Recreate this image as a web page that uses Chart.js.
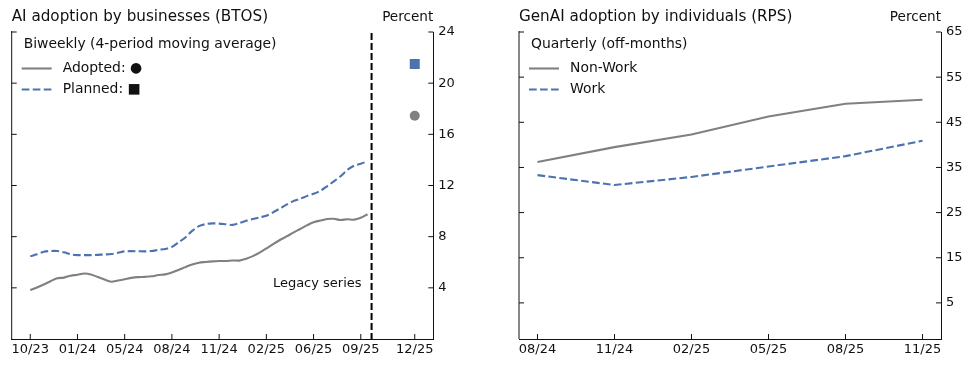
<!DOCTYPE html>
<html>
<head>
<meta charset="utf-8">
<script src="https://cdn.jsdelivr.net/npm/chart.js@4.4.1/dist/chart.umd.min.js"></script>
<style>
    html, body { margin: 0; padding: 0; background: #ffffff; }
    #wrap { position: relative; width: 973px; height: 368px; }
    #leftChart { position: absolute; left: 0; top: 0; }
    #rightChart { position: absolute; left: 490px; top: 0; }
</style>
</head>
<body>
<div id="wrap">
    <canvas id="leftChart" width="486" height="368"></canvas>
    <canvas id="rightChart" width="483" height="368"></canvas>
</div>
<script>
// Datos del gráfico izquierdo (BTOS, quincenal, media móvil de 4 periodos)
const btosTickPos = [0, 7, 14, 21, 28, 35, 42, 49, 57];
const btosTickLabels = ['10/23', '01/24', '05/24', '08/24', '11/24', '02/25', '06/25', '09/25', '12/25'];
const btosYTicks = [4, 8, 12, 16, 20, 24];
const adopted = [
    3.82, 4.02, 4.26, 4.52, 4.75, 4.80, 4.95, 5.02, 5.12, 5.05,
    4.85, 4.65, 4.48, 4.57, 4.67, 4.78, 4.84, 4.86, 4.90, 5.00,
    5.05, 5.20, 5.40, 5.62, 5.82, 5.96, 6.02, 6.07, 6.10, 6.10,
    6.14, 6.13, 6.28, 6.48, 6.75, 7.08, 7.42, 7.74, 8.02, 8.32,
    8.60, 8.88, 9.12, 9.26, 9.38, 9.40, 9.30, 9.36, 9.33, 9.48,
    9.75
];
const planned = [
    6.46, 6.62, 6.82, 6.88, 6.88, 6.78, 6.62, 6.56, 6.56, 6.56,
    6.58, 6.61, 6.64, 6.74, 6.85, 6.87, 6.86, 6.85, 6.88, 6.97,
    7.03, 7.20, 7.56, 7.94, 8.45, 8.82, 8.98, 9.04, 9.02, 8.97,
    8.92, 9.06, 9.24, 9.38, 9.51, 9.64, 9.90, 10.20, 10.50, 10.78,
    10.96, 11.17, 11.35, 11.58, 11.94, 12.32, 12.72, 13.22, 13.55, 13.70,
    13.90
];
// Nueva serie (12/25)
const newPeriod = 57;
const adoptedNew = 17.45;
const plannedNew = 21.5;
const legacyBreak = 50.6;

// Datos del gráfico derecho (RPS, trimestral)
const rpsLabels = ['08/24', '11/24', '02/25', '05/25', '08/25', '11/25'];
const rpsYTicks = [5, 15, 25, 35, 45, 55, 65];
const nonWork = [36.2, 39.5, 42.3, 46.3, 49.1, 50.0];
const work = [33.3, 31.1, 32.9, 35.2, 37.5, 40.9];

const GRAY = '#808080';
const BLUE = '#4C72B0';
const FONT = "'DejaVu Sans', sans-serif";
const INK = '#111111';

function toPoints(arr) {
    return arr.map((v, i) => ({ x: i, y: v }));
}

// Ejes, marcas hacia dentro y textos
function framePlugin(opts) {
    return {
        id: 'frame',
        afterDraw(chart) {
            const ctx = chart.ctx;
            const a = chart.chartArea;
            const xs = chart.scales.x;
            const ys = chart.scales.y;
            ctx.save();
            ctx.strokeStyle = INK;
            ctx.lineWidth = 1;
            ctx.setLineDash([]);
            // eje izquierdo
            ctx.beginPath();
            ctx.moveTo(a.left, a.top - 1);
            ctx.lineTo(a.left, a.bottom);
            ctx.stroke();
            // marcas
            ctx.beginPath();
            xs.ticks.forEach(t => {
                const px = xs.getPixelForValue(t.value);
                ctx.moveTo(px, a.bottom);
                ctx.lineTo(px, a.bottom - 5);
            });
            ys.ticks.forEach(t => {
                const py = ys.getPixelForValue(t.value);
                ctx.moveTo(a.left, py);
                ctx.lineTo(a.left + 5, py);
                ctx.moveTo(a.right, py);
                ctx.lineTo(a.right - 5, py);
            });
            ctx.stroke();

            // títulos
            ctx.fillStyle = INK;
            ctx.textBaseline = 'middle';
            ctx.font = '15.2px ' + FONT;
            ctx.textAlign = 'left';
            ctx.fillText(opts.title, a.left, 17);
            ctx.font = '13.6px ' + FONT;
            ctx.textAlign = 'right';
            ctx.fillText('Percent', a.right, 17.5);

            // leyenda
            ctx.font = '13.9px ' + FONT;
            ctx.textAlign = 'left';
            ctx.fillText(opts.legendTitle, a.left + 12, 44);
            opts.legendItems.forEach((item, k) => {
                const y = 68.5 + k * 21;
                ctx.strokeStyle = item.color;
                ctx.lineWidth = 2.1;
                ctx.setLineDash(item.dash);
                ctx.beginPath();
                ctx.moveTo(a.left + 10, y);
                ctx.lineTo(a.left + 40, y);
                ctx.stroke();
                ctx.setLineDash([]);
                ctx.fillStyle = INK;
                ctx.fillText(item.text, a.left + 51, y);
            });

            // línea de ruptura de la serie
            if (opts.breakAt !== undefined) {
                const bx = xs.getPixelForValue(opts.breakAt);
                ctx.strokeStyle = '#000000';
                ctx.lineWidth = 2;
                ctx.setLineDash([7, 3]);
                ctx.beginPath();
                ctx.moveTo(bx, a.top + 1);
                ctx.lineTo(bx, a.bottom);
                ctx.stroke();
                ctx.setLineDash([]);
                ctx.font = '13px ' + FONT;
                ctx.textAlign = 'right';
                ctx.fillStyle = INK;
                ctx.fillText('Legacy series', bx - 10, ys.getPixelForValue(4.3));
            }
            ctx.restore();
        }
    };
}

function axisOptions(xMin, xMax, xTicks, xLabel, yMin, yMax, yTicks) {
    return {
        x: {
            type: 'linear',
            min: xMin,
            max: xMax,
            afterBuildTicks: s => { s.ticks = xTicks.map(v => ({ value: v })); },
            afterFit: s => { s.height = 29; },
            grid: { display: false, drawTicks: false },
            border: { display: true, color: INK, width: 1 },
            ticks: {
                autoSkip: false,
                maxRotation: 0,
                padding: 3,
                color: INK,
                font: { family: FONT, size: 13 },
                callback: v => xLabel(v)
            }
        },
        y: {
            type: 'linear',
            position: 'right',
            min: yMin,
            max: yMax,
            afterBuildTicks: s => { s.ticks = yTicks.map(v => ({ value: v })); },
            afterFit: s => { s.width = 34; },
            grid: { display: false, drawTicks: false },
            border: { display: true, color: INK, width: 1 },
            ticks: {
                padding: 5,
                color: INK,
                font: { family: FONT, size: 13 },
                callback: v => String(v)
            }
        }
    };
}

const common = {
    responsive: false,
    animation: false,
    events: [],
    plugins: { legend: { display: false }, tooltip: { enabled: false }, title: { display: false } },
    elements: { point: { radius: 0 } }
};

// Gráfico izquierdo
new Chart(document.getElementById('leftChart').getContext('2d'), {
    type: 'line',
    data: {
        datasets: [
            { data: toPoints(adopted), borderColor: GRAY, borderWidth: 2.1, fill: false, tension: 0.3 },
            { data: toPoints(planned), borderColor: BLUE, borderWidth: 2.1, borderDash: [7.7, 3.3], fill: false, tension: 0.3 },
            { data: [{ x: newPeriod, y: plannedNew }], showLine: false, pointRadius: 7.07, pointStyle: 'rect',
              pointBackgroundColor: BLUE, pointBorderWidth: 0 },
            { data: [{ x: newPeriod, y: adoptedNew }], showLine: false, pointRadius: 5, pointStyle: 'circle',
              pointBackgroundColor: GRAY, pointBorderWidth: 0 }
        ]
    },
    options: Object.assign({}, common, {
        layout: { padding: { left: 11.7, top: 32, right: 486 - 433.3 - 34, bottom: 0 } },
        scales: axisOptions(-2.75, 59.75, btosTickPos,
            v => btosTickLabels[btosTickPos.indexOf(v)] || '', 0, 24, btosYTicks)
    }),
    plugins: [framePlugin({
        title: 'AI adoption by businesses (BTOS)',
        legendTitle: 'Biweekly (4-period moving average)',
        legendItems: [
            { text: 'Adopted: \u25CF', color: GRAY, dash: [] },
            { text: 'Planned: \u25A0', color: BLUE, dash: [7.7, 3.3] }
        ],
        breakAt: legacyBreak
    })]
});

// Gráfico derecho
new Chart(document.getElementById('rightChart').getContext('2d'), {
    type: 'line',
    data: {
        datasets: [
            { data: toPoints(nonWork), borderColor: GRAY, borderWidth: 2.1, fill: false },
            { data: toPoints(work), borderColor: BLUE, borderWidth: 2.1, borderDash: [7.7, 3.3], fill: false }
        ]
    },
    options: Object.assign({}, common, {
        layout: { padding: { left: 29, top: 32, right: 483 - 451 - 28, bottom: 0 } },
        scales: (() => {
            const s = axisOptions(-0.24, 5.24, [0, 1, 2, 3, 4, 5],
                v => rpsLabels[v] || '', -3, 65, rpsYTicks);
            s.y.afterFit = sc => { sc.width = 28; };
            return s;
        })()
    }),
    plugins: [framePlugin({
        title: 'GenAI adoption by individuals (RPS)',
        legendTitle: 'Quarterly (off-months)',
        legendItems: [
            { text: 'Non-Work', color: GRAY, dash: [] },
            { text: 'Work', color: BLUE, dash: [7.7, 3.3] }
        ]
    })]
});
</script>
</body>
</html>
